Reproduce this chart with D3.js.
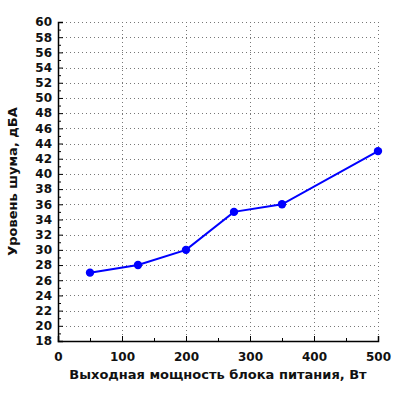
<!DOCTYPE html>
<html>
<head>
<meta charset="utf-8">
<script src="https://d3js.org/d3.v7.min.js"></script>
<style>
  body { margin: 0; background: #fff; }
  svg text { font-family: "DejaVu Sans", Verdana, sans-serif; font-weight: bold; fill: #111; }
</style>
</head>
<body>
<div id="chart"></div>
<script>
// power output (W) vs noise level (dBA)
const powerW = [50, 125, 200, 275, 350, 500];
const noiseDb = [27, 28, 30, 35, 36, 43];
const xTicks = [0, 100, 200, 300, 400, 500];
const yTicks = d3.range(18, 61, 2);

const xTitle = 'Выходная мощность блока питания, Вт';
const yTitle = 'Уровень шума, дБА';

const W = 400, H = 400;
const m = { left: 58, right: 22, top: 22, bottom: 59 };

const svg = d3.select('#chart').append('svg')
    .attr('width', W).attr('height', H);

const x = d3.scaleLinear().domain([0, 500]).range([m.left, W - m.right]);
const y = d3.scaleLinear().domain([18, 60]).range([H - m.bottom, m.top]);

// dotted grid
const grid = svg.append('g').attr('stroke', '#777').attr('stroke-width', 1)
    .attr('stroke-dasharray', '1,3');
grid.selectAll('line.h').data(yTicks.filter(d => d > 18)).join('line')
    .attr('class', 'h')
    .attr('x1', m.left).attr('x2', W - m.right)
    .attr('y1', d => Math.round(y(d)) + 0.5).attr('y2', d => Math.round(y(d)) + 0.5);
grid.selectAll('line.v').data(xTicks.filter(d => d > 0)).join('line')
    .attr('class', 'v')
    .attr('y1', m.top).attr('y2', H - m.bottom)
    .attr('x1', d => Math.round(x(d)) + 0.5).attr('x2', d => Math.round(x(d)) + 0.5);

// axes, ticks pointing inward
svg.append('g')
    .attr('transform', `translate(0,${H - m.bottom})`)
    .call(d3.axisBottom(x).tickValues(xTicks).tickSize(-5).tickPadding(11));
svg.append('g')
    .attr('transform', `translate(0,${H - m.bottom})`)
    .call(d3.axisBottom(x).tickValues(d3.range(50, 500, 100)).tickSize(-3).tickFormat(''))
    .select('.domain').remove();

svg.append('g')
    .attr('transform', `translate(${m.left},0)`)
    .call(d3.axisLeft(y).tickValues(yTicks).tickSize(-5).tickPadding(6));
svg.append('g')
    .attr('transform', `translate(${m.left},0)`)
    .call(d3.axisLeft(y).tickValues(d3.range(19, 60, 2)).tickSize(-3).tickFormat(''))
    .select('.domain').remove();

svg.selectAll('.domain').attr('stroke', '#000').attr('stroke-width', 1.5);
svg.selectAll('.tick line').attr('stroke', '#000');
svg.selectAll('.tick text').attr('font-size', 12);
svg.selectAll('g').attr('font-family', null);

// line + markers
svg.append('path')
    .datum(powerW.map((p, i) => [p, noiseDb[i]]))
    .attr('fill', 'none')
    .attr('stroke', '#0000ff')
    .attr('stroke-width', 2)
    .attr('d', d3.line().x(d => x(d[0])).y(d => y(d[1])));

svg.append('g').selectAll('circle')
    .data(powerW.map((p, i) => [p, noiseDb[i]]))
    .join('circle')
    .attr('cx', d => x(d[0])).attr('cy', d => y(d[1]))
    .attr('r', 4.2).attr('fill', '#0000ff');

// titles
svg.append('text')
    .attr('x', (m.left + W - m.right) / 2).attr('y', 379)
    .attr('text-anchor', 'middle').attr('font-size', 13)
    .text(xTitle);

svg.append('text')
    .attr('transform', `translate(17,${(m.top + H - m.bottom) / 2}) rotate(-90)`)
    .attr('text-anchor', 'middle').attr('font-size', 13)
    .text(yTitle);
</script>
</body>
</html>
